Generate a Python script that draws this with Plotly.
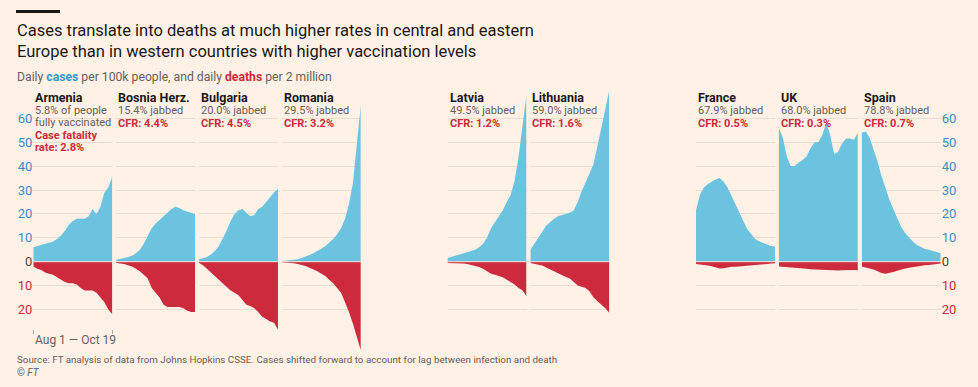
import plotly.graph_objects as go

# ---------------- data ----------------
days = list(range(0, 81, 4))  # Aug 1 .. Oct 19/20, every 4 days

countries = ["Armenia", "Bosnia Herz.", "Bulgaria", "Romania", "Latvia",
             "Lithuania", "France", "UK", "Spain"]
jabbed = ["5.8%", "15.4%", "20.0%", "29.5%", "49.5%", "59.0%", "67.9%", "68.0%", "78.8%"]
cfr = ["2.8%", "4.4%", "4.5%", "3.2%", "1.2%", "1.6%", "0.5%", "0.3%", "0.7%"]

cases_armenia = [6, 6.5, 7, 7.5, 8, 8.5, 9.5, 11, 13, 15.5, 17, 18, 18, 18, 19, 22, 20, 23, 29, 31, 35.5]
deaths_armenia = [2, 3, 3.5, 4.5, 5, 5.5, 6.5, 7.5, 8.5, 9, 9, 9.5, 11, 12, 12, 12, 13, 15, 17, 20, 22]

cases_bosnia = [0.8, 1, 1.5, 2, 2.5, 3.5, 5, 7.5, 11, 14, 16, 17.5, 19, 20.5, 22, 23, 22.5, 21.5, 21, 20.5, 20]
deaths_bosnia = [0.5, 0.7, 1, 1.5, 2, 3, 4, 5.5, 7, 11, 13, 15, 18, 19, 19, 19, 19, 19.5, 20.5, 21, 21]

cases_bulgaria = [1, 1.5, 2, 3, 4.5, 6.5, 9.5, 13, 17, 20, 21.5, 22, 20.5, 19, 19.5, 22, 23, 25, 27, 29, 30.5]
deaths_bulgaria = [0.5, 1.5, 3, 4.5, 6, 7.5, 9, 10.5, 12, 13, 14, 16, 18, 18.5, 19.5, 21, 23, 24, 25, 25.5, 28.5]

cases_romania = [0.3, 0.4, 0.6, 0.8, 1, 1.5, 2, 2.8, 3.5, 4.5, 5.5, 6.5, 8, 9.5, 11.5, 14, 18, 24, 33, 48, 65.5]
deaths_romania = [0.2, 0.3, 0.5, 0.7, 1, 1.3, 1.8, 2.5, 3.2, 4, 5, 6, 7.5, 9, 11, 13, 17, 21, 26, 32, 37]

cases_latvia = [1.5, 2, 2.3, 2.8, 3.2, 3.8, 4.3, 5, 6, 7.5, 10, 14, 16.5, 19, 21.5, 25, 28, 34, 44, 57, 70]
deaths_latvia = [0.5, 0.5, 0.6, 0.7, 0.8, 1, 1.3, 1.8, 2.2, 3, 4, 5, 5.5, 6, 6.5, 7.5, 8.5, 9.5, 11, 12, 14.5]

cases_lithuania = [5, 7.5, 10.5, 13, 15, 16.5, 18, 19, 19.5, 20, 20.5, 21.5, 25, 29.5, 33, 37, 41, 48, 56, 64, 72]
deaths_lithuania = [0.5, 0.8, 1.2, 1.6, 2.4, 3.2, 4, 5, 5.6, 6.4, 7, 8.5, 10, 10.5, 11, 12.5, 15, 16.5, 18, 19.5, 21.5]

cases_france = [21.5, 28, 31, 32.5, 33.5, 34.5, 35, 33.5, 31, 27.5, 23.5, 20, 16.5, 13.5, 11.5, 9.5, 8.5, 7.8, 7.2, 6.6, 6.3]
deaths_france = [1, 1.1, 1.3, 1.6, 1.9, 2.3, 2.8, 2.7, 2.3, 2.1, 2.1, 2, 1.9, 1.7, 1.5, 1.4, 1.2, 1.1, 1, 0.8, 0.7]

cases_uk = [56, 52, 44, 40, 40, 41.5, 42.5, 44, 47.5, 50, 50, 53, 58, 53, 45, 46, 49.5, 51.5, 51.5, 51, 54]
deaths_uk = [2, 2.1, 2.2, 2.3, 2.5, 2.6, 2.8, 3, 3.2, 3.3, 3.5, 3.6, 3.7, 3.8, 3.8, 3.7, 3.6, 3.5, 3.4, 3.5, 3.6]

cases_spain = [54, 54.5, 52, 47, 42, 36, 30.5, 26, 22, 18, 14.5, 12, 10, 8.3, 7, 6, 5.3, 5, 4.6, 4, 3.5]
deaths_spain = [2, 2.3, 2.8, 3.3, 4, 4.7, 5, 4.8, 4.3, 3.8, 3.2, 2.8, 2.5, 2.2, 2, 1.8, 1.5, 1.4, 1.2, 1, 0.8]

tick_vals = [60, 50, 40, 30, 20, 10, 0, -10, -20]
tick_labels = ["60", "50", "40", "30", "20", "10", "0", "10", "20"]
date_labels = ["Aug 1", "Oct 19"]

cases_all = [cases_armenia, cases_bosnia, cases_bulgaria, cases_romania, cases_latvia,
             cases_lithuania, cases_france, cases_uk, cases_spain]
deaths_all = [deaths_armenia, deaths_bosnia, deaths_bulgaria, deaths_romania, deaths_latvia,
              deaths_lithuania, deaths_france, deaths_uk, deaths_spain]

# ---------------- style / layout ----------------
W, H = 978, 387
BG = "#fff1e5"
BLUE = "#6cc3e0"
RED = "#cd2a3e"
GRID = "#e9ddd2"
GREY = "#66605c"
BLACK = "#1a1817"
TICK_BLUE = "#3d8fbf"
TICK_RED = "#cc2b3f"
FONT = "Roboto"

slot_of_panel = [0, 1, 2, 3, 5, 6, 8, 9, 10]
PANEL_LEFT0 = 33.3
SLOT_STRIDE = 82.84
PANEL_W = 79.0
Y_ZERO_PX = 261.7
PX_PER_UNIT = 2.39
Y_MIN, Y_MAX = -38, 73

def px_y(p):
    return 1 - p / H

def px_x(p):
    return p / W

y_top_px = Y_ZERO_PX - Y_MAX * PX_PER_UNIT
y_bot_px = Y_ZERO_PX - Y_MIN * PX_PER_UNIT

def tick_text(v, lab):
    if v > 0:
        c = TICK_BLUE
    elif v < 0:
        c = TICK_RED
    else:
        c = "#4d4845"
    return f"<span style='color:{c}'>{lab}</span>"

ticktext = [tick_text(v, l) for v, l in zip(tick_vals, tick_labels)]

fig = go.Figure()
layout = dict(
    width=W, height=H,
    margin=dict(l=0, r=0, t=0, b=0),
    paper_bgcolor=BG, plot_bgcolor=BG,
    showlegend=False,
    font=dict(family=FONT, color=GREY),
)

annotations = []
shapes = []

for i, name in enumerate(countries):
    n = "" if i == 0 else str(i + 1)
    left = PANEL_LEFT0 + slot_of_panel[i] * SLOT_STRIDE
    right = left + PANEL_W
    xa = "x" + n
    ya = "y" + n
    fig.add_trace(go.Scatter(x=days, y=cases_all[i], mode="lines", line=dict(width=0, color=BLUE),
                             fill="tozeroy", fillcolor=BLUE, xaxis=xa, yaxis=ya, hoverinfo="skip"))
    fig.add_trace(go.Scatter(x=days, y=[-d for d in deaths_all[i]], mode="lines",
                             line=dict(width=0, color=RED), fill="tozeroy", fillcolor=RED,
                             xaxis=xa, yaxis=ya, hoverinfo="skip"))
    xaxis = dict(domain=[px_x(left), px_x(right)], range=[0, 80], anchor=ya,
                 showgrid=False, zeroline=False, showline=False, showticklabels=False,
                 ticks="", fixedrange=True)
    if i == 0:
        xaxis.update(anchor="free", position=px_y(329), tickvals=[0.15, 79.85], ticks="outside",
                     ticklen=4, tickcolor="#b3aaa2", tickwidth=1)
    yaxis = dict(domain=[px_y(y_bot_px), px_y(y_top_px)], range=[Y_MIN, Y_MAX], anchor=xa,
                 tickvals=tick_vals, ticktext=ticktext, showgrid=True, gridcolor=GRID, gridwidth=1,
                 zeroline=False, showline=False, ticks="", fixedrange=True,
                 showticklabels=(i == 0 or i == len(countries) - 1),
                 tickfont=dict(family=FONT, size=13))
    if i == len(countries) - 1:
        yaxis.update(side="right")
    layout["xaxis" + n] = xaxis
    layout["yaxis" + n] = yaxis

    # thin light line at zero between cases and deaths
    shapes.append(dict(type="line", xref=xa + " domain", yref=ya, x0=0, x1=1, y0=0, y1=0,
                       line=dict(color="#f3e6dc", width=1), layer="above"))

    # panel labels
    annotations.append(dict(text=f"<b>{name}</b>", x=px_x(left), y=px_y(98), xref="paper", yref="paper",
                            xanchor="left", yanchor="middle", showarrow=False,
                            font=dict(family=FONT, size=12.5, color=BLACK)))
    if i == 0:
        subs = [(f"{jabbed[i]} of people", 110.7, GREY, False),
                ("fully vaccinated", 122.3, GREY, False),
                ("Case fatality", 135.7, TICK_RED, True),
                (f"rate: {cfr[i]}", 147.3, TICK_RED, True)]
    else:
        subs = [(f"{jabbed[i]} jabbed", 110.7, GREY, False),
                (f"CFR: {cfr[i]}", 124.0, TICK_RED, True)]
    for txt, yy, col, bold in subs:
        annotations.append(dict(text=(f"<b>{txt}</b>" if bold else txt), x=px_x(left), y=px_y(yy),
                                xref="paper", yref="paper", xanchor="left", yanchor="middle",
                                showarrow=False, font=dict(family=FONT, size=11, color=col)))

# title block
shapes.append(dict(type="rect", xref="paper", yref="paper", x0=px_x(16), x1=px_x(60),
                   y0=px_y(13), y1=px_y(10), fillcolor=BLACK, line=dict(width=0)))
annotations.append(dict(text="Cases translate into deaths at much higher rates in central and eastern",
                        x=px_x(15), y=px_y(31), xref="paper", yref="paper", xanchor="left", yanchor="middle",
                        showarrow=False, font=dict(family=FONT, size=16.5, color=BLACK)))
annotations.append(dict(text="Europe than in western countries with higher vaccination levels",
                        x=px_x(15), y=px_y(52), xref="paper", yref="paper", xanchor="left", yanchor="middle",
                        showarrow=False, font=dict(family=FONT, size=16.5, color=BLACK)))
annotations.append(dict(text=(f"Daily <b><span style='color:#2f9ad3'>cases</span></b> per 100k people, "
                              f"and daily <b><span style='color:{TICK_RED}'>deaths</span></b> per 2 million"),
                        x=px_x(15), y=px_y(76.5), xref="paper", yref="paper", xanchor="left", yanchor="middle",
                        showarrow=False, font=dict(family=FONT, size=12.2, color=GREY)))
annotations.append(dict(text=f"{date_labels[0]} \u2014 {date_labels[1]}", x=px_x(32.5), y=px_y(339.5),
                        xref="paper", yref="paper", xanchor="left", yanchor="middle",
                        showarrow=False, font=dict(family=FONT, size=12, color=GREY)))
annotations.append(dict(text="Source: FT analysis of data from Johns Hopkins CSSE. Cases shifted forward "
                             "to account for lag between infection and death",
                        x=px_x(15), y=px_y(359), xref="paper", yref="paper", xanchor="left",
                        yanchor="middle", showarrow=False, font=dict(family=FONT, size=9.8, color=GREY)))
annotations.append(dict(text="\u00a9 <i>FT</i>", x=px_x(15), y=px_y(372), xref="paper", yref="paper",
                        xanchor="left", yanchor="middle", showarrow=False,
                        font=dict(family=FONT, size=10, color=GREY)))

layout["annotations"] = annotations
layout["shapes"] = shapes
fig.update_layout(**layout)
fig.write_html("out.html", config={"displayModeBar": False, "staticPlot": True},
               post_script="document.body.style.margin='0';document.body.style.overflow='hidden';")
